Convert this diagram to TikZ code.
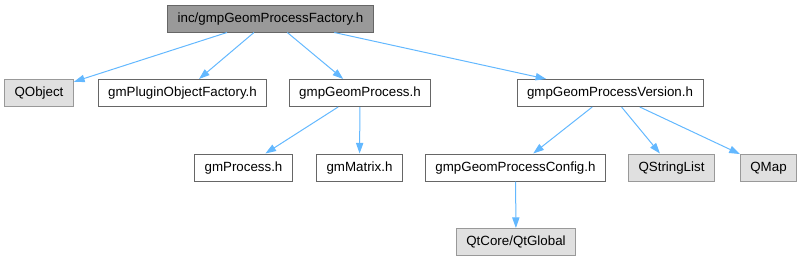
\documentclass[tikz,border=0pt]{standalone}
\usepackage{fontspec}
\setmainfont{Liberation Sans}
\usetikzlibrary{arrows.meta}

\definecolor{rootgray}{HTML}{999999}
\definecolor{boxborder}{HTML}{666666}
\definecolor{extfill}{HTML}{E0E0E0}
\definecolor{extborder}{HTML}{999999}
\definecolor{edgeblue}{HTML}{63B8FF}

\begin{document}
\begin{tikzpicture}[
      x=0.75pt, y=-0.75pt,
      font=\fontsize{10}{12}\selectfont,
      base/.style = {draw, rectangle, line width=0.75pt, inner xsep=7.5pt, inner ysep=0pt,
                     minimum height=20.25pt, text height=7.4pt, text depth=2pt},
      % --- Estilos de Blocos ---
      rootfile/.style = {base, fill=rootgray, draw=boxborder},
      header/.style = {base, fill=white, draw=boxborder},
      extheader/.style = {base, fill=extfill, draw=extborder},
      dep/.style = {draw=edgeblue, line width=0.75pt, -{Triangle[length=8pt, width=5.5pt]}}
    ]
      \useasboundingbox (0,0) rectangle (802,261);

      % --- RAIZ ---
      \node [rootfile] (factory) at (270.5,18.5) {inc/gmpGeomProcessFactory.h};

      % --- NIVEL 1 ---
      \node [extheader] (qobject) at (39,93) {QObject};
      \node [header] (pluginfactory) at (182.5,93) {gmPluginObjectFactory.h};
      \node [header] (geomprocess) at (360,93) {gmpGeomProcess.h};
      \node [header] (version) at (610,93) {gmpGeomProcessVersion.h};

      % --- NIVEL 2 ---
      \node [header] (process) at (243.5,167.5) {gmProcess.h};
      \node [header] (matrix) at (359.5,167.5) {gmMatrix.h};
      \node [header] (config) at (515.5,167.5) {gmpGeomProcessConfig.h};
      \node [extheader] (stringlist) at (671.5,167.5) {QStringList};
      \node [extheader] (qmap) at (768.5,167.5) {QMap};

      % --- NIVEL 3 ---
      \node [extheader] (qtglobal) at (516,242) {QtCore/QtGlobal};

      % Conexões
      \draw [dep] (factory) -- (qobject);
      \draw [dep] (factory) -- (pluginfactory);
      \draw [dep] (factory) -- (geomprocess);
      \draw [dep] (factory) -- (version);
      \draw [dep] (geomprocess) -- (process);
      \draw [dep] (geomprocess) -- (matrix);
      \draw [dep] (version) -- (config);
      \draw [dep] (version) -- (stringlist);
      \draw [dep] (version) -- (qmap);
      \draw [dep] (config) -- (qtglobal);

    \end{tikzpicture}
\end{document}
